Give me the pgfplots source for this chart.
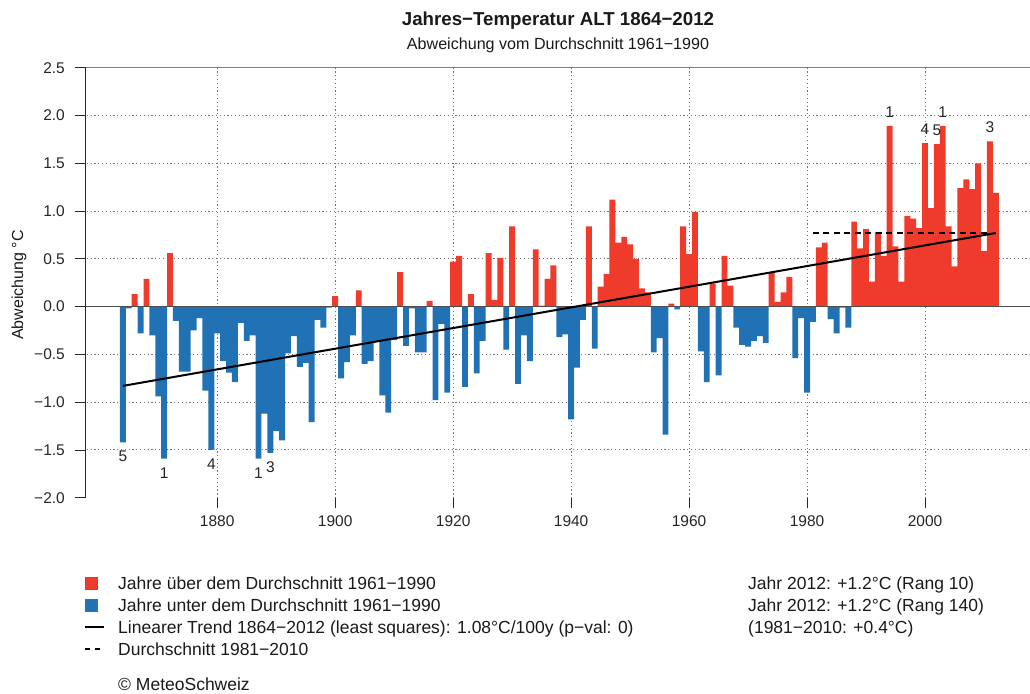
\documentclass[border=0pt]{standalone}
\usepackage{fontspec}
\setmainfont{Liberation Sans}
\usepackage{pgfplots}
\pgfplotsset{compat=1.18}
\usepackage{pgfplotstable}

\definecolor{barred}{HTML}{EF3B2C}
\definecolor{barblue}{HTML}{2171B5}

\pgfplotstableread{
year v
1864 -1.42
1865 -0.02
1866 0.13
1867 -0.28
1868 0.29
1869 -0.30
1870 -0.94
1871 -1.59
1872 0.56
1873 -0.15
1874 -0.68
1875 -0.68
1876 -0.25
1877 -0.12
1878 -0.88
1879 -1.50
1880 -0.28
1881 -0.57
1882 -0.69
1883 -0.79
1884 -0.17
1885 -0.36
1886 -0.30
1887 -1.59
1888 -1.12
1889 -1.53
1890 -1.30
1891 -1.40
1892 -0.49
1893 -0.31
1894 -0.63
1895 -0.59
1896 -1.21
1897 -0.14
1898 -0.22
1899 -0.01
1900 0.11
1901 -0.75
1902 -0.58
1903 -0.30
1904 0.17
1905 -0.60
1906 -0.57
1907 -0.37
1908 -0.93
1909 -1.11
1910 -0.35
1911 0.36
1912 -0.41
1913 -0.02
1914 -0.48
1915 -0.48
1916 0.06
1917 -0.98
1918 -0.18
1919 -0.90
1920 0.47
1921 0.53
1922 -0.84
1923 0.13
1924 -0.70
1925 -0.36
1926 0.56
1927 0.07
1928 0.51
1929 -0.45
1930 0.84
1931 -0.81
1932 -0.30
1933 -0.57
1934 0.60
1935 0.01
1936 0.29
1937 0.43
1938 -0.32
1939 -0.29
1940 -1.18
1941 -0.64
1942 -0.14
1943 0.84
1944 -0.44
1945 0.21
1946 0.34
1947 1.12
1948 0.67
1949 0.73
1950 0.65
1951 0.50
1952 0.19
1953 0.15
1954 -0.48
1955 -0.33
1956 -1.34
1957 0.03
1958 -0.03
1959 0.84
1960 0.55
1961 0.99
1962 -0.47
1963 -0.79
1964 0.24
1965 -0.72
1966 0.53
1967 0.22
1968 -0.22
1969 -0.40
1970 -0.42
1971 -0.36
1972 -0.31
1973 -0.38
1974 0.36
1975 0.05
1976 0.15
1977 0.31
1978 -0.54
1979 -0.12
1980 -0.90
1981 -0.16
1982 0.62
1983 0.67
1984 -0.13
1985 -0.28
1986 -0.01
1987 -0.22
1988 0.89
1989 0.61
1990 0.81
1991 0.26
1992 0.78
1993 0.53
1994 1.89
1995 0.63
1996 0.26
1997 0.95
1998 0.92
1999 0.82
2000 1.71
2001 1.03
2002 1.70
2003 1.89
2004 0.84
2005 0.42
2006 1.24
2007 1.33
2008 1.23
2009 1.50
2010 0.58
2011 1.73
2012 1.19
}\tempdata

\tikzset{gridline/.style={color=black!55, line width=1pt, dash pattern=on 1.2pt off 2.6pt}}

\begin{document}
\begin{tikzpicture}[x=1pt,y=1pt]
\useasboundingbox (0,0) rectangle (1030,693);
\begin{axis}[
  at={(85.7pt,195.3pt)}, anchor=south west,
  scale only axis, width=944.3pt, height=430pt,
  xmin=1857.7, xmax=2017.8, ymin=-2, ymax=2.5,
  axis lines*=left, separate axis lines,
  x axis line style={draw=none},
  y axis line style={draw=black!85, line width=0.8pt},
  tick align=outside, major tick length=10.7pt,
  tick style={draw=black!85, line width=0.8pt},
  xtick={1880,1900,1920,1940,1960,1980,2000},
  xticklabels={1880,1900,1920,1940,1960,1980,2000},
  ytick={-2,-1.5,-1,-0.5,0,0.5,1,1.5,2,2.5},
  yticklabels={−2.0,−1.5,−1.0,−0.5,0.0,0.5,1.0,1.5,2.0,2.5},
  ticklabel style={font=\fontsize{15.5}{18}\selectfont, text=black!85},
  yticklabel style={inner sep=0pt, anchor=east, xshift=-10pt},
  xticklabel style={inner sep=0pt, anchor=north, yshift=-7pt},
  clip=false,
]
% grid
\pgfplotsinvokeforeach{-1.5,-1,-0.5,0.5,1,1.5,2}{
  \draw[gridline] (axis cs:1857.9,#1) -- (axis cs:2017.8,#1);
}
\pgfplotsinvokeforeach{1880,1900,1920,1940,1960,1980,2000}{
  \draw[gridline] (axis cs:#1,2.5) -- (axis cs:#1,-2);
}
% bars
\addplot[ybar, bar width=1, bar shift=0pt, fill=barred, draw=none,
  restrict y to domain=0:5] table[x=year,y=v]{\tempdata};
\addplot[ybar, bar width=1, bar shift=0pt, fill=barblue, draw=none,
  restrict y to domain=-5:0] table[x=year,y=v]{\tempdata};
% zero and top lines
\draw[black!70, line width=1pt] (axis cs:1857.7,0) -- (axis cs:2017.8,0);
\draw[black!50, line width=1.6pt] (axis cs:1857.7,2.5) -- (axis cs:2017.8,2.5);
% trend and mean
\addplot[black, line width=2pt] coordinates {(1864,-0.83) (2012,0.77)};
\addplot[black, line width=1.5pt, dash pattern=on 6pt off 4.5pt] coordinates {(1981,0.77) (2011,0.77)};
% rank labels
\begin{scope}[every node/.style={font=\fontsize{15.5}{18}\selectfont, text=black!85, inner sep=0pt}]
\node at (axis cs:1864,-1.57) {5};
\node at (axis cs:1871,-1.74) {1};
\node at (axis cs:1879,-1.65) {4};
\node at (axis cs:1887,-1.74) {1};
\node at (axis cs:1889,-1.68) {3};
\node at (axis cs:1994,2.035) {1};
\node at (axis cs:2000,1.855) {4};
\node at (axis cs:2002,1.845) {5};
\node at (axis cs:2003,2.035) {1};
\node at (axis cs:2011,1.875) {3};
\end{scope}
\end{axis}

% titles
\node[anchor=base, font=\bfseries\fontsize{18.7}{22}\selectfont, text=black!90] at (558,667.4) {Jahres−Temperatur ALT 1864−2012};
\node[anchor=base, font=\fontsize{16.1}{19}\selectfont, text=black!90] at (558,643.3) {Abweichung vom Durchschnitt 1961−1990};
\node[rotate=90, font=\fontsize{16}{18}\selectfont, text=black!90] at (19,408) {Abweichung °C};

% legend
\fill[barred, draw=black!60, line width=0.6pt] (85,104) rectangle (97,116);
\fill[barblue, draw=black!60, line width=0.6pt] (85,82) rectangle (97,94);
\draw[black, line width=2pt] (85,66) -- (104,66);
\draw[black, line width=1.3pt, dash pattern=on 5pt off 5pt] (85,44) -- (104,44);
\begin{scope}[every node/.style={anchor=base west, inner sep=0pt, font=\fontsize{17.5}{21}\selectfont, text=black!90}]
\node at (118,103.7) {Jahre über dem Durchschnitt 1961−1990};
\node at (118,81.7) {Jahre unter dem Durchschnitt 1961−1990};
\node at (118,59.7) {Linearer Trend 1864−2012 (least squares): 1.08°C/100y (p−val: 0)};
\node at (118,37.7) {Durchschnitt 1981−2010};
\node at (118,2.7) {© MeteoSchweiz};
\node at (748,103.7) {Jahr 2012: +1.2°C (Rang 10)};
\node at (748,81.7) {Jahr 2012: +1.2°C (Rang 140)};
\node at (748,59.7) {(1981−2010: +0.4°C)};
\end{scope}
\end{tikzpicture}
\end{document}
